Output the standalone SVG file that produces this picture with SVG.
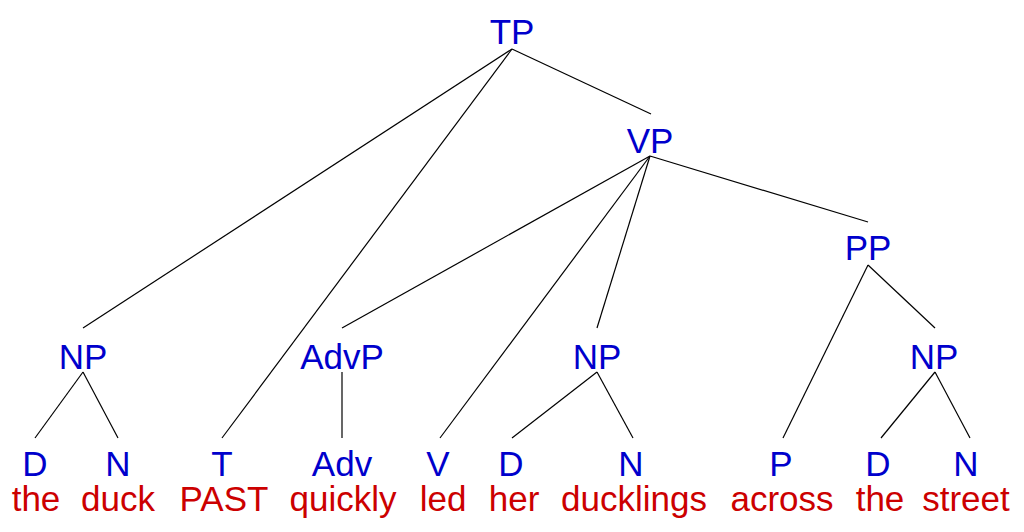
<svg xmlns="http://www.w3.org/2000/svg" width="1024" height="532" viewBox="0 0 1024 532">
<style>
.c{font-family:"Liberation Sans",Arial,sans-serif;font-size:35px;fill:#0000cc;text-anchor:middle}
.w{font-family:"Liberation Sans",Arial,sans-serif;font-size:35px;fill:#cc0000;text-anchor:middle}
.e line{stroke:#000;stroke-width:1.2}
</style>
<rect width="1024" height="532" fill="#fff"/>
<g id="connectors" class="e">
<line x1="512" y1="49" x2="83" y2="328"/>
<line x1="512" y1="49" x2="222" y2="438"/>
<line x1="512" y1="49" x2="651" y2="114"/>
<line x1="650" y1="156" x2="342" y2="328"/>
<line x1="650" y1="156" x2="440" y2="438"/>
<line x1="650" y1="156" x2="597" y2="328"/>
<line x1="650" y1="156" x2="868" y2="222"/>
<line x1="868" y1="265" x2="783" y2="438"/>
<line x1="868" y1="265" x2="935" y2="328"/>
<line x1="83" y1="372" x2="35" y2="438"/>
<line x1="83" y1="372" x2="118" y2="438"/>
<line x1="342" y1="372" x2="342" y2="438"/>
<line x1="597" y1="372" x2="512" y2="438"/>
<line x1="597" y1="372" x2="633" y2="438"/>
<line x1="935" y1="372" x2="881" y2="438"/>
<line x1="935" y1="372" x2="970" y2="438"/>
</g>
<g id="TP"><text class="c" x="512" y="44">TP</text></g>
<g id="VP"><text class="c" x="650" y="153">VP</text></g>
<g id="PP"><text class="c" x="868" y="260">PP</text></g>
<g id="NP1"><text class="c" x="83" y="369">NP</text></g>
<g id="AdvP"><text class="c" x="342" y="369">AdvP</text></g>
<g id="NP2"><text class="c" x="597" y="369">NP</text></g>
<g id="NP3"><text class="c" x="934" y="369">NP</text></g>
<g id="D1"><text class="c" x="35" y="476">D</text><text class="w" x="36" y="511">the</text></g>
<g id="N1"><text class="c" x="118" y="476">N</text><text class="w" x="118" y="511">duck</text></g>
<g id="T"><text class="c" x="222" y="476">T</text><text class="w" x="224" y="511">PAST</text></g>
<g id="Adv"><text class="c" x="342" y="476">Adv</text><text class="w" x="343" y="511">quickly</text></g>
<g id="V"><text class="c" x="438" y="476">V</text><text class="w" x="443" y="511">led</text></g>
<g id="D2"><text class="c" x="511" y="476">D</text><text class="w" x="514" y="511">her</text></g>
<g id="N2"><text class="c" x="631" y="476">N</text><text class="w" x="634" y="511">ducklings</text></g>
<g id="P"><text class="c" x="781" y="476">P</text><text class="w" x="782" y="511">across</text></g>
<g id="D3"><text class="c" x="878" y="476">D</text><text class="w" x="880" y="511">the</text></g>
<g id="N3"><text class="c" x="966" y="476">N</text><text class="w" x="966" y="511">street</text></g>
</svg>
